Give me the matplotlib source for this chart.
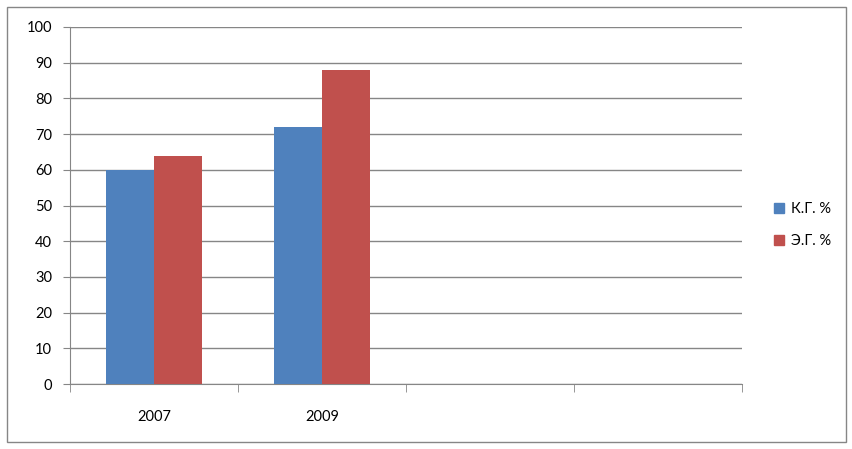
import matplotlib.pyplot as plt
from matplotlib.patches import Rectangle
from matplotlib.lines import Line2D
import numpy as np

plt.rcParams['font.family'] = ['Lato', 'DejaVu Sans']

categories = ["2007", "2009", "", ""]
kg_values = [60, 72]
eg_values = [64, 88]
series_names = ["К.Г. %", "Э.Г. %"]
colors = ["#4F81BD", "#C0504D"]
y_ticks = list(range(0, 101, 10))

fig = plt.figure(figsize=(8.52, 4.49), dpi=100)
ax = fig.add_axes([70 / 852, 65 / 449, 672 / 852, 357 / 449])

width = 48 / 168
x = np.arange(len(kg_values))
ax.bar(x - width / 2, kg_values, width, color=colors[0], zorder=3)
ax.bar(x + width / 2, eg_values, width, color=colors[1], zorder=3)

ax.set_xlim(-0.5, len(categories) - 0.5)
ax.set_ylim(0, 100)
ax.set_yticks(y_ticks)
ax.yaxis.grid(True, color="#868686", linewidth=1, zorder=0)
ax.set_xticks(np.arange(len(categories)))
ax.set_xticklabels(categories)
ax.set_xticks(np.arange(len(categories) + 1) - 0.5, minor=True)
ax.tick_params(axis="x", which="major", length=0, pad=19, labelsize=10.5)
ax.tick_params(axis="x", which="minor", length=6, color="#868686", direction="out")
ax.tick_params(axis="y", length=5, color="#868686", direction="out", pad=8, labelsize=10.5)

for side in ["top", "right"]:
    ax.spines[side].set_visible(False)
for side in ["left", "bottom"]:
    ax.spines[side].set_color("#868686")

handles = [Line2D([], [], marker="s", linestyle="none", markersize=7,
                  color=c) for c in colors]
fig.legend(handles, series_names, loc="center left",
           bbox_to_anchor=(757 / 852, 1 - 225 / 449), frameon=False,
           fontsize=10.5, handletextpad=0.2, labelspacing=1.2, handlelength=1.2)

fig.patches.append(Rectangle((7 / 852, 7 / 449), 839 / 852, 435 / 449,
                             transform=fig.transFigure, fill=False,
                             edgecolor="#868686", linewidth=1))

fig.savefig("out.png", dpi=100)
